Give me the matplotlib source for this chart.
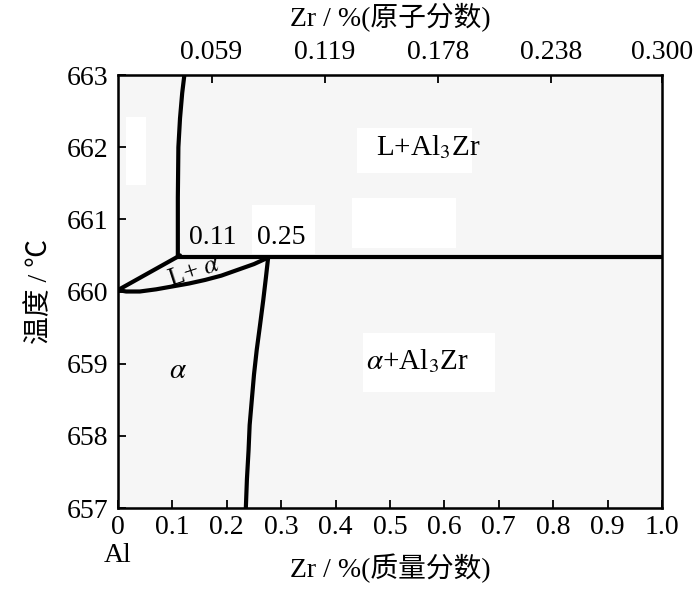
import matplotlib
matplotlib.use("Agg")
import matplotlib.pyplot as plt
from matplotlib.patches import Rectangle

plt.rcParams["font.family"] = ["Liberation Serif", "Noto Sans CJK SC"]
plt.rcParams["mathtext.fontset"] = "stix"

# ── data (wt.% Zr, temperature °C) ────────────────────────────────────────────
liq_x = [0.122, 0.118, 0.114, 0.111, 0.110, 0.110]
liq_t = [663.0, 662.75, 662.4, 662.0, 661.3, 660.5]

eut_x = [0.110, 1.0]
eut_t = [660.48, 660.48]

la_upper_x = [0.0, 0.114]
la_upper_t = [660.02, 660.5]
la_lower_x = [0.0, 0.015, 0.04, 0.07, 0.10, 0.13, 0.16, 0.19, 0.22, 0.25, 0.276]
la_lower_t = [660.02, 660.0, 660.0, 660.03, 660.07, 660.11, 660.16, 660.22,
              660.30, 660.38, 660.47]

solvus_x = [0.276, 0.272, 0.267, 0.261, 0.255, 0.250, 0.246, 0.242, 0.240, 0.237, 0.235]
solvus_t = [660.47, 660.2, 659.88, 659.53, 659.19, 658.85, 658.50, 658.15,
            657.80, 657.4, 657.0]

x_ticks = [0, 0.1, 0.2, 0.3, 0.4, 0.5, 0.6, 0.7, 0.8, 0.9, 1.0]
x_labels = ["0", "0.1", "0.2", "0.3", "0.4", "0.5", "0.6", "0.7", "0.8", "0.9", "1.0"]
y_ticks = [657, 658, 659, 660, 661, 662, 663]
top_pos = [0.172, 0.380, 0.588, 0.796, 1.0]
top_labels = ["0.059", "0.119", "0.178", "0.238", "0.300"]

# ── figure ────────────────────────────────────────────────────────────────────
fig = plt.figure(figsize=(7.0, 5.92), dpi=100)
ax = fig.add_axes([118 / 700, 1 - 508 / 592, (662 - 118) / 700, (508 - 75) / 592])
ax.set_facecolor("#f6f6f6")

# white patches (scan artefacts in the original)
for (x0, y0, x1, y1) in [(126, 117, 146, 185), (357, 128, 472, 173),
                         (352, 198, 456, 248), (363, 333, 495, 392),
                         (252, 205, 315, 254)]:
    ax.add_patch(Rectangle(((x0 - 118) / 544, 1 - (y1 - 75) / 433),
                           (x1 - x0) / 544, (y1 - y0) / 433,
                           transform=ax.transAxes, facecolor="white",
                           edgecolor="none", zorder=0))

lw = 3.0
ax.plot(liq_x, liq_t, color="black", lw=lw, solid_capstyle="round")
ax.plot(eut_x, eut_t, color="black", lw=lw)
ax.plot(la_upper_x, la_upper_t, color="black", lw=lw, solid_capstyle="round")
ax.plot(la_lower_x, la_lower_t, color="black", lw=lw, solid_capstyle="round")
ax.plot(solvus_x, solvus_t, color="black", lw=lw, solid_capstyle="round")

ax.set_xlim(0, 1.0)
ax.set_ylim(657, 663)
ax.set_xticks(x_ticks)
ax.set_xticklabels(x_labels)
ax.set_yticks(y_ticks)
ax.tick_params(direction="in", length=6, width=1.3, labelsize=20)
ax.tick_params(axis="x", pad=5)
ax.tick_params(axis="y", pad=7)
for s in ax.spines.values():
    s.set_linewidth(1.8)

ax.set_xlabel("Zr / %(质量分数)", fontsize=20, labelpad=10)
ax.set_ylabel("温度 / ℃", fontsize=20, labelpad=10)

top = ax.twiny()
top.set_xlim(ax.get_xlim())
top.set_xticks(top_pos)
top.set_xticklabels(top_labels)
top.tick_params(direction="in", length=6, width=1.3, labelsize=20, pad=7)
top.set_xlabel("Zr / %(原子分数)", fontsize=20, labelpad=10)

# phase labels
ax.text(0.57, 662.0, r"L+Al$_3$Zr", fontsize=21, ha="center", va="center")
ax.text(0.55, 659.03, r"$\alpha$+Al$_3$Zr", fontsize=21, ha="center", va="center")
ax.text(0.11, 658.9, r"$\alpha$", fontsize=21, ha="center", va="center")
ax.text(0.14, 660.27, r"L+ $\alpha$", fontsize=19, ha="center", va="center",
        rotation=18)
ax.text(0.175, 660.75, "0.11", fontsize=20, ha="center", va="center")
ax.text(0.30, 660.75, "0.25", fontsize=20, ha="center", va="center")
ax.text(0.0, 656.52, "Al", fontsize=20, ha="center", va="top")

fig.savefig("out.png", dpi=100)
